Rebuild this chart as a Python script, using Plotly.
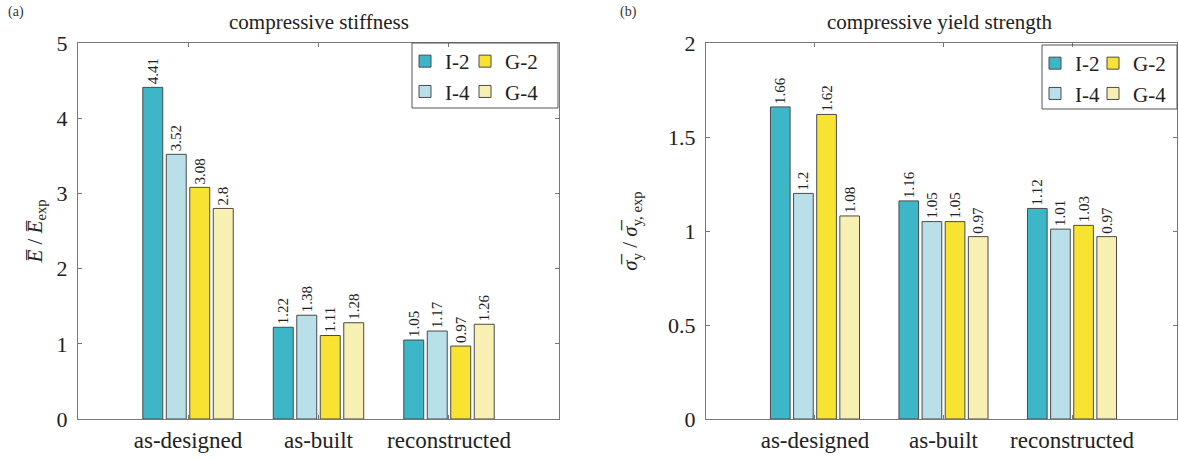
import plotly.graph_objects as go

categories = ["as-designed", "as-built", "reconstructed"]
series_names = ["I-2", "I-4", "G-2", "G-4"]
stiffness = {
    "I-2": [4.41, 1.22, 1.05],
    "I-4": [3.52, 1.38, 1.17],
    "G-2": [3.08, 1.11, 0.97],
    "G-4": [2.8, 1.28, 1.26],
}
strength = {
    "I-2": [1.66, 1.16, 1.12],
    "I-4": [1.2, 1.05, 1.01],
    "G-2": [1.62, 1.05, 1.03],
    "G-4": [1.08, 0.97, 0.97],
}
colors = {"I-2": "#3db7c7", "I-4": "#b9e0e9", "G-2": "#f8e332", "G-4": "#f8f0b2"}
legend_ids_a = {"I-2": "legend", "I-4": "legend", "G-2": "legend2", "G-4": "legend2"}
legend_ids_b = {"I-2": "legend3", "I-4": "legend3", "G-2": "legend4", "G-4": "legend4"}

FONT = "Liberation Serif, Times New Roman, serif"
W, H = 1179, 459

def px_x(p):
    return p / W

def px_y(p):
    return 1 - p / H

fig = go.Figure()
for name in series_names:
    fig.add_trace(go.Bar(
        x=categories, y=stiffness[name], name=name, xaxis="x", yaxis="y",
        marker=dict(color=colors[name], line=dict(color="#4a4a4a", width=1)),
        text=[str(v) for v in stiffness[name]], textposition="outside", textangle=-90,
        constraintext="none", cliponaxis=False,
        textfont=dict(family=FONT, size=15, color="#222"),
        legend=legend_ids_a[name],
    ))
for name in series_names:
    fig.add_trace(go.Bar(
        x=categories, y=strength[name], name=name, xaxis="x2", yaxis="y2",
        marker=dict(color=colors[name], line=dict(color="#4a4a4a", width=1)),
        text=[str(v) for v in strength[name]], textposition="outside", textangle=-90,
        constraintext="none", cliponaxis=False,
        textfont=dict(family=FONT, size=15, color="#222"),
        legend=legend_ids_b[name],
    ))

axis_common = dict(showline=True, linecolor="#777", linewidth=1, mirror="ticks",
                   ticks="inside", ticklen=4, tickcolor="#777", showgrid=False,
                   zeroline=False, automargin=False)
ytick_font = dict(family=FONT, size=22, color="#222")
xtick_font = dict(family=FONT, size=23, color="#222")

dom_ya = [px_y(419), px_y(43)]
fig.update_layout(
    width=W, height=H,
    margin=dict(l=0, r=0, t=0, b=0),
    paper_bgcolor="white", plot_bgcolor="white",
    barmode="group", bargap=0.28, bargroupgap=0.15,
    font=dict(family=FONT, size=21, color="#222"),
    xaxis=dict(domain=[px_x(78), px_x(559)], anchor="y", range=[-0.843, 2.843],
               tickfont=xtick_font, **axis_common),
    yaxis=dict(domain=dom_ya, anchor="x", range=[0, 5], dtick=1, tickfont=ytick_font,
               ticklabelstandoff=5,
               title=dict(text="<i>E\u0305</i> / <i>E\u0305</i><sub>exp</sub>",
                          font=dict(family=FONT, size=21), standoff=8),
               **axis_common),
    xaxis2=dict(domain=[px_x(706), px_x(1177)], anchor="y2", range=[-0.848, 2.817],
                tickfont=xtick_font, **axis_common),
    yaxis2=dict(domain=dom_ya, anchor="x2", range=[0, 2], dtick=0.5, tickfont=ytick_font,
                ticklabelstandoff=5,
                title=dict(text="<i>\u03c3\u0305</i><sub>y</sub> / <i>\u03c3\u0305</i><sub>y, exp</sub>",
                           font=dict(family=FONT, size=21), standoff=24),
                **axis_common),
    showlegend=True,
)

leg_common = dict(bgcolor="rgba(0,0,0,0)", borderwidth=0, orientation="v",
                  font=dict(family=FONT, size=21, color="#222"),
                  xanchor="left", yanchor="top", itemwidth=30, tracegroupgap=0)
fig.update_layout(
    legend=dict(x=px_x(405), y=px_y(41), **leg_common),
    legend2=dict(x=px_x(465), y=px_y(41), **leg_common),
    legend3=dict(x=px_x(1035), y=px_y(43), **leg_common),
    legend4=dict(x=px_x(1093), y=px_y(43), **leg_common),
)

# legend frames
for (x0, x1, y0, y1) in [(412, 558, 43, 108), (1042, 1177, 45, 109)]:
    fig.add_shape(type="rect", xref="paper", yref="paper",
                  x0=px_x(x0), x1=px_x(x1), y0=px_y(y1), y1=px_y(y0),
                  line=dict(color="#555", width=1), fillcolor="rgba(0,0,0,0)")

# titles and panel labels
ann_font = dict(family=FONT, size=21, color="#222")
fig.add_annotation(text="compressive stiffness", xref="paper", yref="paper",
                   x=px_x(319), y=px_y(22), xanchor="center", yanchor="middle",
                   showarrow=False, font=ann_font)
fig.add_annotation(text="compressive yield strength", xref="paper", yref="paper",
                   x=px_x(940), y=px_y(22), xanchor="center", yanchor="middle",
                   showarrow=False, font=ann_font)
fig.add_annotation(text="(a)", xref="paper", yref="paper", x=px_x(16), y=px_y(12),
                   xanchor="center", yanchor="middle",
                   showarrow=False, font=dict(family=FONT, size=14, color="#333"))
fig.add_annotation(text="(b)", xref="paper", yref="paper", x=px_x(628), y=px_y(12),
                   xanchor="center", yanchor="middle",
                   showarrow=False, font=dict(family=FONT, size=14, color="#333"))

fig.write_html("out.html")
